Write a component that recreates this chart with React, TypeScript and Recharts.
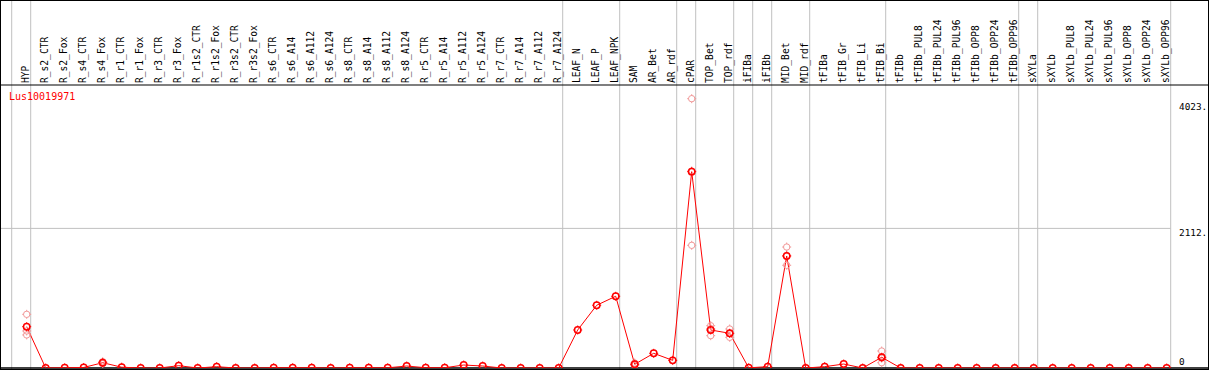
import React from 'react';
import { ComposedChart, Line, Scatter, XAxis, YAxis, ReferenceLine } from 'recharts';

// ---------- data ----------
const geneId = 'Lus10019971';

const categories = [
  'HYP', 'R_s2_CTR', 'R_s2_Fox', 'R_s4_CTR', 'R_s4_Fox', 'R_r1_CTR', 'R_r1_Fox', 'R_r3_CTR', 'R_r3_Fox',
  'R_r1s2_CTR', 'R_r1s2_Fox', 'R_r3s2_CTR', 'R_r3s2_Fox', 'R_s6_CTR', 'R_s6_A14', 'R_s6_A112', 'R_s6_A124',
  'R_s8_CTR', 'R_s8_A14', 'R_s8_A112', 'R_s8_A124', 'R_r5_CTR', 'R_r5_A14', 'R_r5_A112', 'R_r5_A124',
  'R_r7_CTR', 'R_r7_A14', 'R_r7_A112', 'R_r7_A124', 'LEAF_N', 'LEAF_P', 'LEAF_NPK', 'SAM', 'AR_Bet', 'AR_rdf',
  'cPAR', 'TOP_Bet', 'TOP_rdf', 'iFIBa', 'iFIBb', 'MID_Bet', 'MID_rdf', 'tFIBa', 'tFIB_Gr', 'tFIB_Li', 'tFIB_Bi',
  'tFIBb', 'tFIBb_PUL8', 'tFIBb_PUL24', 'tFIBb_PUL96', 'tFIBb_OPP8', 'tFIBb_OPP24', 'tFIBb_OPP96', 'sXYLa',
  'sXYLb', 'sXYLb_PUL8', 'sXYLb_PUL24', 'sXYLb_PUL96', 'sXYLb_OPP8', 'sXYLb_OPP24', 'sXYLb_OPP96',
];

const meanValues = [
  625, 0, 3, 8, 80, 12, 0, 0, 35,
  0, 20, 0, 0, 4, 4, 4, 0,
  4, 4, 3, 30, 4, 4, 45, 30,
  0, 0, 0, 0, 575, 949, 1085, 56, 222, 116,
  2970, 575, 525, 3, 20, 1694, 0, 20, 60, 0, 162,
  0, 0, 0, 0, 0, 0, 0, 0,
  0, 0, 0, 0, 0, 0, 0,
];

const repCategories = ['HYP', 'R_s4_Fox', 'SAM', 'cPAR', 'TOP_Bet', 'TOP_rdf', 'MID_Bet', 'tFIB_Bi'];
const repValues = [
  [812, 560, 500],
  [95, 80, 65],
  [75, 55, 40],
  [4074, 2980, 1856],
  [640, 596, 489],
  [590, 521, 464],
  [1830, 1698, 1554],
  [257, 149, 80],
];

const groupEnds = [
  'HYP', 'R_r7_A124', 'LEAF_NPK', 'AR_rdf', 'cPAR', 'TOP_rdf', 'iFIBa', 'iFIBb', 'MID_rdf',
  'tFIB_Bi', 'tFIBb_OPP96', 'sXYLa', 'sXYLb_OPP96',
];

const yTicks = [0, 2112, 4023];
const yTickLabels = ['0', '2112.', '4023.'];
const gridValues = [2112];

// ---------- layout ----------
const CHART_W = 1207;
const CHART_H = 368;
const STEP = 19;
const X_MIN = -25.7 / STEP;
const X_MAX = X_MIN + CHART_W / STEP;
const HEADER_H = 84;
const Y_MAX = 4281;
const Y_EXT = 5700;
const SEP_OFFSET = 0.21;
const FONT = '"DejaVu Sans Mono", "Liberation Mono", monospace';
const RED = '#ff0000';
const PINK = '#f29a9a';
const GRAY = '#c0c0c0';

const lineData = meanValues.map((v, i) => ({ x: i, v }));
const repData = repCategories.flatMap((c, k) =>
  repValues[k].map((r) => ({ x: categories.indexOf(c), r }))
);
const separators = [-1, ...groupEnds.map((g) => categories.indexOf(g))].map((i) => i + SEP_OFFSET);
const lastSep = categories.indexOf('sXYLb_OPP96') + SEP_OFFSET;

const Marker = ({ cx, cy, color, sw }: any) => {
  if (cx == null || cy == null || isNaN(cx) || isNaN(cy)) return null;
  const r = 3.2;
  const t = 1.3;
  const d = `M${cx} ${cy - r - t}V${cy - r + 0.4}M${cx} ${cy + r - 0.4}V${cy + r + t}M${cx - r - t} ${cy}H${cx - r + 0.4}M${cx + r - 0.4} ${cy}H${cx + r + t}`;
  return (
    <g>
      <circle cx={cx} cy={cy} r={r} fill="none" stroke={color} strokeWidth={sw} />
      <path d={d} stroke={color} strokeWidth={1} fill="none" />
    </g>
  );
};

const CatTick = (props: any) => {
  const { x, y, payload } = props;
  const label = categories[payload.value];
  if (label == null) return null;
  return (
    <text
      transform={`translate(${x + 2.6},${y}) rotate(-90)`}
      textAnchor="start"
      fontFamily={FONT}
      fontSize={9.6}
      fill="#000"
    >
      {label}
    </text>
  );
};

const ValTick = (props: any) => {
  const { x, y, payload } = props;
  const idx = yTicks.indexOf(payload.value);
  const label = idx >= 0 ? yTickLabels[idx] : String(payload.value);
  const dy = payload.value === 0 ? -3 : 8;
  return (
    <text x={x - 29} y={y + dy} textAnchor="start" fontFamily={FONT} fontSize={9.4} fill="#000">
      {label}
    </text>
  );
};

export default function App() {
  return (
    <div
      style={{
        position: 'absolute',
        left: 0,
        top: 0,
        width: 1209,
        height: 370,
        boxSizing: 'border-box',
        border: '1px solid #000',
        background: '#fff',
      }}
    >
      <ComposedChart
        width={CHART_W}
        height={CHART_H}
        data={lineData}
        margin={{ top: 0, right: 0, bottom: 1, left: 0 }}
      >
        <XAxis
          xAxisId="x"
          dataKey="x"
          type="number"
          orientation="top"
          domain={[X_MIN, X_MAX]}
          allowDataOverflow
          ticks={categories.map((_, i) => i)}
          interval={0}
          height={HEADER_H}
          tickSize={0}
          tickMargin={2}
          axisLine={{ stroke: '#000', strokeWidth: 1.2 }}
          tick={<CatTick />}
        />
        <YAxis
          yAxisId="y"
          type="number"
          orientation="right"
          mirror
          domain={[0, Y_MAX]}
          allowDataOverflow
          ticks={yTicks}
          interval={0}
          tickSize={0}
          tickMargin={0}
          axisLine={false}
          tick={<ValTick />}
        />
        {separators.map((s) => (
          <ReferenceLine
            key={`sep-${s}`}
            xAxisId="x"
            yAxisId="y"
            segment={[{ x: s, y: -200 }, { x: s, y: Y_EXT }]}
            ifOverflow="visible"
            stroke={GRAY}
            strokeWidth={1}
          />
        ))}
        {gridValues.map((g) => (
          <ReferenceLine
            key={`grid-${g}`}
            xAxisId="x"
            yAxisId="y"
            segment={[{ x: X_MIN, y: g }, { x: lastSep, y: g }]}
            stroke={GRAY}
            strokeWidth={1}
          />
        ))}
        <ReferenceLine xAxisId="x" yAxisId="y" y={0} stroke="#000" strokeWidth={1.5} />
        <Scatter
          xAxisId="x"
          yAxisId="y"
          data={repData}
          dataKey="r"
          isAnimationActive={false}
          shape={(p: any) => <Marker cx={p.cx} cy={p.cy} color={PINK} sw={1} />}
        />
        <Line
          xAxisId="x"
          yAxisId="y"
          dataKey="v"
          stroke={RED}
          strokeWidth={1}
          isAnimationActive={false}
          dot={(p: any) => <Marker key={`d-${p.index}`} cx={p.cx} cy={p.cy} color={RED} sw={1.5} />}
          activeDot={false}
        />
      </ComposedChart>
      <div
        style={{
          position: 'absolute',
          left: 8,
          top: 90,
          fontFamily: FONT,
          fontSize: 10,
          lineHeight: '12px',
          color: RED,
          whiteSpace: 'nowrap',
        }}
      >
        {geneId}
      </div>
    </div>
  );
}
